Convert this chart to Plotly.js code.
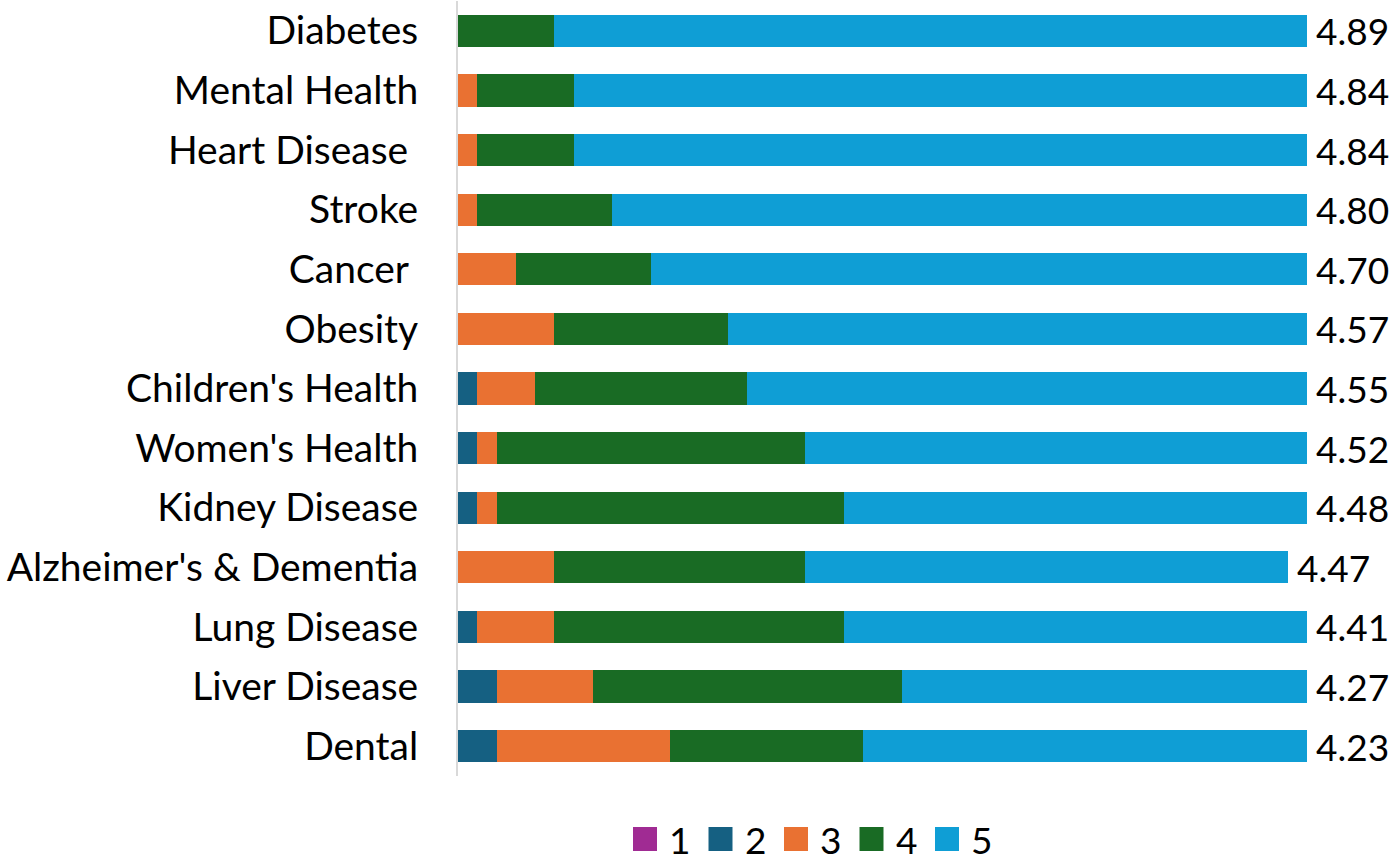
<!DOCTYPE html>
<html>
<head>
<meta charset="utf-8">
<script src="https://cdn.plot.ly/plotly-3.0.1.min.js"></script>
<style>html,body{margin:0;padding:0;background:#fff;}#chart{width:1400px;height:861px;}</style>
</head>
<body>
<div id="chart"></div>
<script>
const categories = ["Diabetes", "Mental Health", "Heart Disease\u00a0", "Stroke", "Cancer\u00a0", "Obesity",
  "Children's Health", "Women's Health", "Kidney Disease", "Alzheimer's & Dementia", "Lung Disease",
  "Liver Disease", "Dental"];
const seriesNames = ["1", "2", "3", "4", "5"];
const s1 = [0, 0, 0, 0, 0, 0, 0, 0, 0, 0, 0, 0, 0];
const s2 = [0, 0, 0, 0, 0, 0, 2.27, 2.27, 2.27, 0, 2.27, 4.55, 4.55];
const s3 = [0, 2.27, 2.27, 2.27, 6.82, 11.36, 6.82, 2.27, 2.27, 11.36, 9.09, 11.36, 20.45];
const s4 = [11.36, 11.36, 11.36, 15.91, 15.91, 20.45, 25.00, 36.36, 40.91, 29.55, 34.09, 36.36, 22.73];
const s5 = [88.64, 86.36, 86.36, 81.82, 77.27, 68.18, 65.91, 59.09, 54.55, 56.82, 54.55, 47.73, 52.27];
const averages = ["4.89", "4.84", "4.84", "4.80", "4.70", "4.57", "4.55", "4.52", "4.48", "4.47", "4.41", "4.27", "4.23"];

const colors = ["#A02B93", "#156082", "#E97132", "#196B24", "#0F9ED5"];
const FONT = "Lato, 'Open Sans', sans-serif";
const allSeries = [s1, s2, s3, s4, s5];

const traces = allSeries.map((vals, i) => ({
  type: "bar",
  orientation: "h",
  name: seriesNames[i],
  x: vals,
  y: categories,
  marker: {color: colors[i], line: {width: 0}},
  hoverinfo: "x+y+name"
}));

const totals = categories.map((c, j) => allSeries.reduce((a, s) => a + s[j], 0));
const annotations = categories.map((c, j) => ({
  x: totals[j], y: c, xref: "x", yref: "y",
  text: averages[j], showarrow: false, xanchor: "left", yanchor: "middle",
  xshift: 7, font: {family: FONT, size: 37, color: "#000"}
}));

// Custom legend (large swatches like the reference), laid out in paper coordinates
const plotW = 849, plotH = 775;
const legStart = 633 - 458, legStep = 75.5, sw = 24, legCy = 839 - 776;
const shapes = [];
seriesNames.forEach((n, i) => {
  const x0 = legStart + i * legStep;
  shapes.push({type: "rect", xref: "paper", yref: "paper",
    x0: x0 / plotW, x1: (x0 + sw) / plotW,
    y0: -(legCy + sw / 2) / plotH, y1: -(legCy - sw / 2) / plotH,
    fillcolor: colors[i], line: {width: 0}});
  annotations.push({xref: "paper", yref: "paper", x: (x0 + sw + 10) / plotW, y: -legCy / plotH,
    text: n, showarrow: false, xanchor: "left", yanchor: "middle",
    font: {family: FONT, size: 37, color: "#000"}});
});

const layout = {
  width: 1400, height: 861,
  margin: {l: 458, r: 93, t: 1, b: 85},
  paper_bgcolor: "#fff", plot_bgcolor: "#fff",
  barmode: "stack",
  bargap: 0.46,
  showlegend: false,
  xaxis: {range: [0, 100], visible: false, fixedrange: true},
  yaxis: {autorange: "reversed", type: "category", showline: true, linecolor: "#d9d9d9", linewidth: 2,
    ticks: "", showgrid: false, zeroline: false, ticklabelstandoff: 30,
    tickfont: {family: FONT, size: 39, color: "#000"}},
  shapes: shapes,
  annotations: annotations
};

Plotly.newPlot("chart", traces, layout, {displayModeBar: false, staticPlot: true});
</script>
</body>
</html>
